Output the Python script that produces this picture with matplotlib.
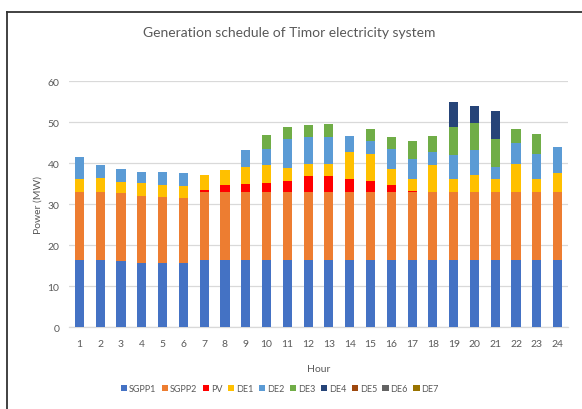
import numpy as np
import matplotlib.pyplot as plt
from matplotlib.lines import Line2D

plt.rcParams['font.family'] = ['Lato', 'DejaVu Sans']

hours = np.arange(1, 25)
sgpp1 = [16.4, 16.4, 16.1, 15.8, 15.7, 15.8, 16.4, 16.4, 16.4, 16.4, 16.4, 16.4,
         16.4, 16.4, 16.4, 16.4, 16.4, 16.4, 16.4, 16.4, 16.4, 16.4, 16.4, 16.4]
sgpp2 = [16.6, 16.6, 16.6, 16.3, 16.1, 15.6, 16.6, 16.6, 16.6, 16.6, 16.6, 16.6,
         16.6, 16.6, 16.6, 16.6, 16.6, 16.6, 16.6, 16.6, 16.6, 16.6, 16.6, 16.6]
pv = [0, 0, 0, 0, 0, 0, 0.5, 1.7, 1.9, 2.2, 2.7, 3.8,
      3.8, 3.2, 2.6, 1.7, 0.3, 0, 0, 0, 0, 0, 0, 0]
de1 = [3.1, 3.5, 2.8, 3.1, 2.9, 3.1, 3.6, 3.6, 4.2, 4.4, 3.2, 2.9,
       2.9, 6.4, 6.6, 4.0, 2.8, 6.6, 3.1, 4.0, 3.1, 6.7, 3.1, 4.5]
de2 = [5.3, 3.1, 3.2, 2.7, 3.1, 3.1, 0, 0, 4.1, 3.9, 6.9, 6.6,
       6.7, 4.0, 3.2, 4.8, 4.8, 3.1, 5.8, 6.3, 3.0, 5.2, 6.2, 6.4]
de3 = [0, 0, 0, 0, 0, 0, 0, 0, 0, 3.3, 3.0, 2.9,
       3.1, 0, 3.0, 2.9, 4.6, 3.9, 6.9, 6.4, 6.9, 3.5, 4.7, 0]
de4 = [0, 0, 0, 0, 0, 0, 0, 0, 0, 0, 0, 0,
       0, 0, 0, 0, 0, 0, 6.1, 4.2, 6.6, 0, 0, 0]
de5 = [0] * 24
de6 = [0] * 24
de7 = [0] * 24

names = ["SGPP1", "SGPP2", "PV", "DE1", "DE2", "DE3", "DE4", "DE5", "DE6", "DE7"]
series = [sgpp1, sgpp2, pv, de1, de2, de3, de4, de5, de6, de7]
colors = ["#4472C4", "#ED7D31", "#FF0000", "#FFC000", "#5B9BD5",
          "#70AD47", "#264478", "#9E480E", "#636363", "#997300"]

fig = plt.figure(figsize=(5.82, 4.1), dpi=100)
ax = fig.add_axes([0.1186, 0.1988, 0.8574, 0.6012])

bottom = np.zeros(24)
for name, vals, c in zip(names, series, colors):
    vals = np.array(vals, dtype=float)
    ax.bar(hours, vals, 0.44, bottom=bottom, color=c, label=name, zorder=3)
    bottom += vals

ax.set_xlim(0.5, 24.5)
ax.set_ylim(0, 60)
ax.set_yticks(range(0, 61, 10))
ax.set_xticks(hours)
ax.yaxis.grid(True, color="#D9D9D9", linewidth=0.9, zorder=0)
for s in ["top", "right", "left"]:
    ax.spines[s].set_visible(False)
ax.spines["bottom"].set_color("#D9D9D9")
ax.spines["bottom"].set_linewidth(0.9)
ax.tick_params(length=0, colors="#595959", labelsize=7.5)
ax.tick_params(axis="y", pad=7)
ax.tick_params(axis="x", pad=8)

ax.set_xlabel("Hour", fontsize=7.5, color="#595959", labelpad=12)
ax.set_ylabel("Power (MW)", fontsize=7.5, color="#595959")
ax.yaxis.set_label_coords(-0.054, 0.5)

fig.text(0.497, 0.92, "Generation schedule of Timor electricity system",
         ha="center", va="center", fontsize=10, color="#595959")

fig.legend(loc="center", bbox_to_anchor=(0.481, 0.049), ncol=10, frameon=False,
           fontsize=6.5, handlelength=0.7, handleheight=0.7, handletextpad=0.2,
           columnspacing=0.6, labelcolor="#595959")

# chart border (left and top only visible)
fig.add_artist(Line2D([7 / 582, 7 / 582], [0, 1 - 13 / 410], color="#333333", lw=1.3))
fig.add_artist(Line2D([7 / 582, 1], [1 - 13 / 410, 1 - 13 / 410], color="#333333", lw=1.3))

fig.savefig("out.png", dpi=100)
